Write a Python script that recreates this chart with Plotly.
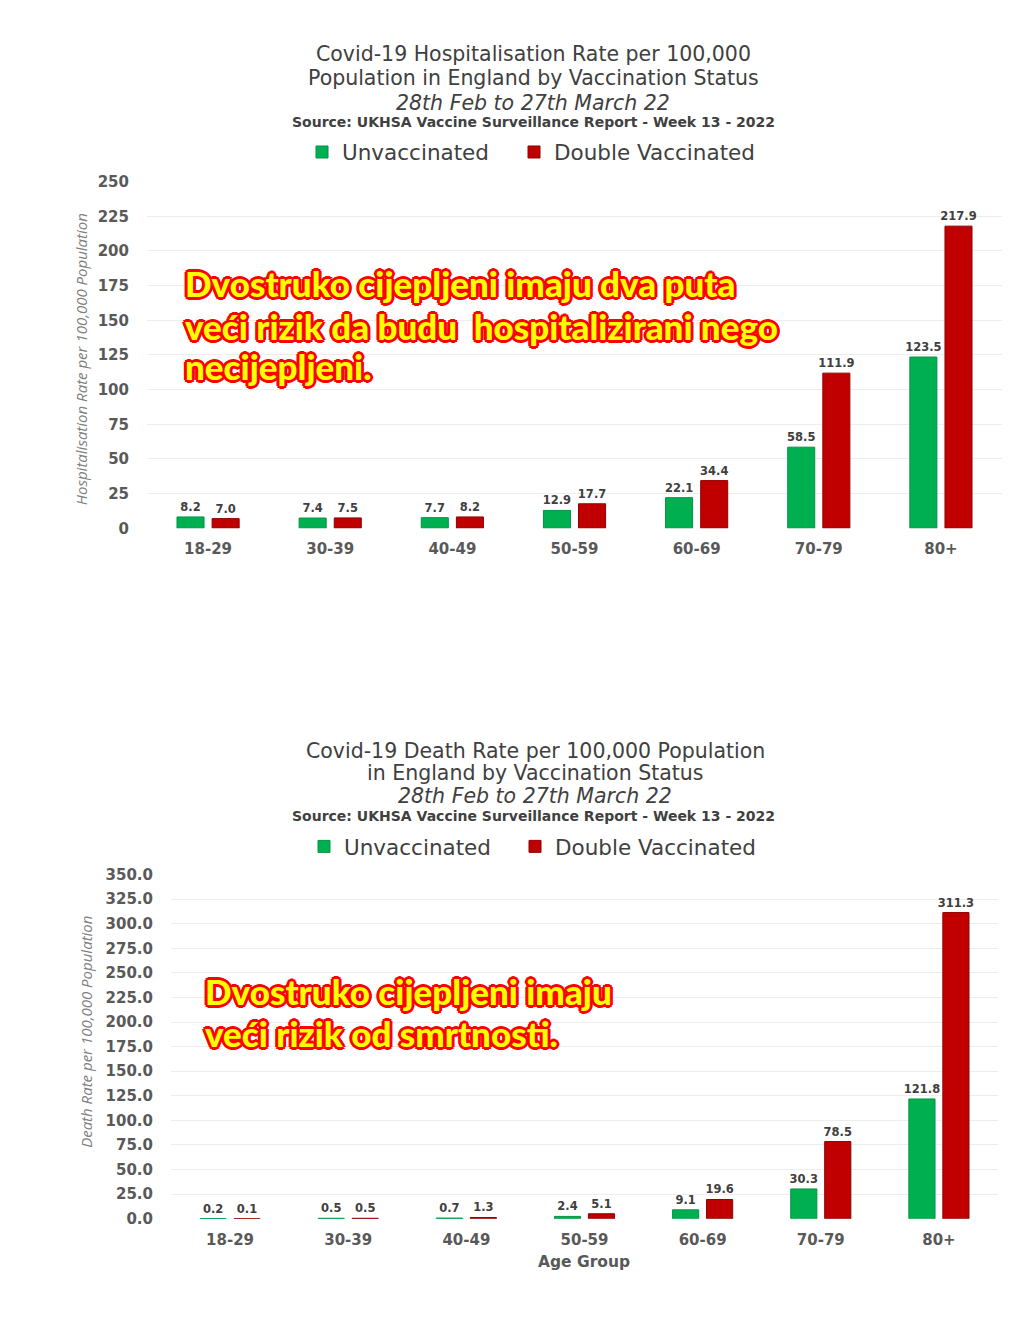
import plotly.graph_objects as go

# ---------------- data ----------------
age_groups = ["18-29", "30-39", "40-49", "50-59", "60-69", "70-79", "80+"]
hosp_unvaccinated = [8.2, 7.4, 7.7, 12.9, 22.1, 58.5, 123.5]
hosp_double = [7.0, 7.5, 8.2, 17.7, 34.4, 111.9, 217.9]
death_unvaccinated = [0.2, 0.5, 0.7, 2.4, 9.1, 30.3, 121.8]
death_double = [0.1, 0.5, 1.3, 5.1, 19.6, 78.5, 311.3]
hosp_ticks = [0, 25, 50, 75, 100, 125, 150, 175, 200, 225, 250]
death_ticks = [0, 25, 50, 75, 100, 125, 150, 175, 200, 225, 250, 275, 300, 325, 350]

series_names = ["Unvaccinated", "Double Vaccinated"]

# ---------------- styles ----------------
W, H = 1024, 1319
GREEN, GREEN_LINE = "#00B050", "#009444"
RED, RED_LINE = "#C00000", "#8E0000"
TXT = "#404040"
TICK = "#595959"
GRID = "#EDEDED"
BASE = "DejaVu Sans"


def fx(p):
    return p / W


def fy(p):
    return 1 - p / H


fig = go.Figure()

label_font = dict(family=BASE, size=11.5, color=TXT, weight="bold")


def add_bars(x, y, name, color, line, xa, ya, legend, lw):
    fig.add_trace(go.Bar(
        x=x, y=y, name=name, xaxis=xa, yaxis=ya, legend=legend, legendwidth=lw,
        marker=dict(color=color, line=dict(color=line, width=1)),
        text=y, texttemplate="%{y:.1f}", textposition="outside",
        textfont=label_font, constraintext="none", cliponaxis=False,
        hoverinfo="skip",
    ))


add_bars(age_groups, hosp_unvaccinated, series_names[0], GREEN, GREEN_LINE, "x", "y", "legend", 167)
add_bars(age_groups, hosp_double, series_names[1], RED, RED_LINE, "x", "y", "legend", 240)
add_bars(age_groups, death_unvaccinated, series_names[0], GREEN, GREEN_LINE, "x2", "y2", "legend2", 166)
add_bars(age_groups, death_double, series_names[1], RED, RED_LINE, "x2", "y2", "legend2", 240)

tickfont = dict(family=BASE, size=15, color=TICK, weight="bold")

xcommon = dict(showgrid=False, zeroline=False, showline=False, ticks="",
               tickfont=tickfont, ticklabelstandoff=10, fixedrange=True)
ycommon = dict(showgrid=True, gridcolor=GRID, gridwidth=1, zeroline=False,
               showline=False, ticks="", tickfont=tickfont,
               ticklabelstandoff=17, fixedrange=True)

legend_common = dict(orientation="h", xanchor="left", yanchor="middle",
                     font=dict(family=BASE, size=21.5, color=TXT),
                     bgcolor="rgba(0,0,0,0)", entrywidthmode="pixels",
                     traceorder="normal")

fig.update_layout(
    width=W, height=H, autosize=False,
    margin=dict(l=0, r=0, t=0, b=0),
    paper_bgcolor="white", plot_bgcolor="white",
    barmode="group", bargap=0.425, bargroupgap=0.23,
    xaxis=dict(domain=[fx(147), fx(1002)], anchor="y", **xcommon),
    yaxis=dict(domain=[fy(526.5), fy(175)], anchor="x", range=[0, 250],
               tickvals=hosp_ticks, **ycommon),
    xaxis2=dict(domain=[fx(171), fx(998)], anchor="y2", **xcommon),
    yaxis2=dict(domain=[fy(1226.5), fy(877.5)], anchor="x2", range=[0, 350],
                tickvals=death_ticks, tickformat=".1f", **ycommon),
    legend=dict(x=fx(302), y=fy(145), **legend_common),
    legend2=dict(x=fx(304), y=fy(849), **legend_common),
    showlegend=True,
)

annotations = []


def text_line(txt, x, y, size, style="normal", weight="normal", color=TXT):
    annotations.append(dict(
        text=txt, x=fx(x), y=fy(y), xref="paper", yref="paper",
        xanchor="center", yanchor="middle", showarrow=False,
        font=dict(family=BASE, size=size, color=color, style=style, weight=weight),
    ))


# top chart title
text_line("Covid-19 Hospitalisation Rate per 100,000", 533.5, 46, 20.5)
text_line("Population in England by Vaccination Status", 533.5, 70, 20.5)
text_line("28th Feb to 27th March 22", 533, 95, 20.5, style="italic")
text_line("Source: UKHSA Vaccine Surveillance Report - Week 13 - 2022", 533.5, 115, 14, weight="bold")

# bottom chart title
text_line("Covid-19 Death Rate per 100,000 Population", 535, 752, 20.5)
text_line("in England by Vaccination Status", 535, 775, 20.5)
text_line("28th Feb to 27th March 22", 535, 798, 20.5, style="italic")
text_line("Source: UKHSA Vaccine Surveillance Report - Week 13 - 2022", 533, 818, 14, weight="bold")

# axis titles
ytitle_font = dict(family="Open Sans", size=15, color="#7F7F7F", style="italic")
annotations.append(dict(text="Hospitalisation Rate per 100,000 Population",
                        x=fx(81), y=fy(355), xref="paper", yref="paper",
                        textangle=-90, showarrow=False, xanchor="center",
                        yanchor="middle", font=ytitle_font))
annotations.append(dict(text="Death Rate per 100,000 Population",
                        x=fx(86), y=fy(1037), xref="paper", yref="paper",
                        textangle=-90, showarrow=False, xanchor="center",
                        yanchor="middle", font=ytitle_font))
annotations.append(dict(text="Age Group", x=fx(584), y=fy(1270),
                        xref="paper", yref="paper", showarrow=False,
                        xanchor="center", yanchor="middle",
                        font=dict(family=BASE, size=15.5, color=TICK, weight="bold")))

# overlay commentary text
outline = ", ".join(f"{dx}px {dy}px 0 #FF0000" for dx, dy in
                    [(2, 0), (-2, 0), (0, 2), (0, -2), (2, 2), (-2, -2), (2, -2), (-2, 2),
                     (3, 0), (-3, 0), (0, 3), (0, -3)])
overlay_font = dict(family="Lato", size=35, color="#FFFF00", weight=900, shadow=outline)


def overlay(txt, x, y):
    annotations.append(dict(text=txt, x=fx(x), y=fy(y), xref="paper", yref="paper",
                            xanchor="left", yanchor="middle", showarrow=False,
                            font=overlay_font))


overlay("Dvostruko cijepljeni imaju dva puta", 183, 278)
overlay("veći rizik da budu  hospitalizirani nego", 183, 321)
overlay("necijepljeni.", 183, 362)
overlay("Dvostruko cijepljeni imaju", 203, 996)
overlay("veći rizik od smrtnosti.", 203, 1038)

fig.update_layout(annotations=annotations)

fig.write_html(
    "out.html",
    post_script="document.documentElement.style.margin='0';"
                "document.body.style.margin='0';document.body.style.padding='0';",
)
